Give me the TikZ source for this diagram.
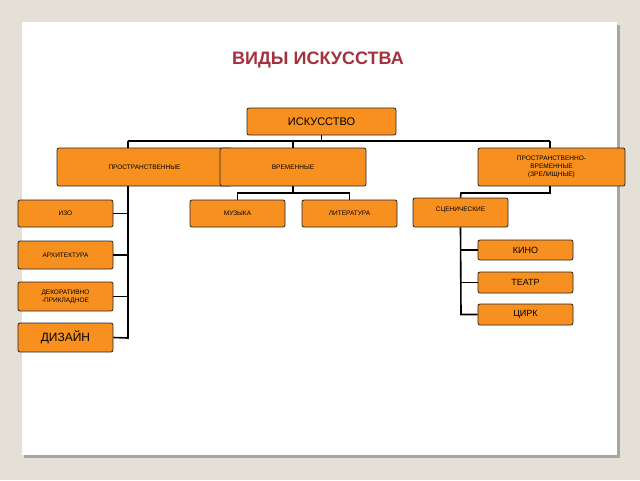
\documentclass[tikz,border=0pt]{standalone}
\usepackage{fontspec}
\setmainfont{Liberation Sans}
\usetikzlibrary{calc}
\definecolor{bg}{HTML}{E4DFD7}
\definecolor{org}{HTML}{F7901E}
\definecolor{ttl}{HTML}{A3323E}
\begin{document}
\begin{tikzpicture}[x=1pt,y=-1pt,
  box/.style={draw=black!85,line width=0.8pt,fill=org,rounded corners=2pt,align=center,inner sep=1pt,
    font=\fontsize{6.5}{8}\selectfont},
  ln/.style={line width=1.6pt,black}]
\useasboundingbox (0,0) rectangle (640,480);
\fill[bg] (0,0) rectangle (640,480);
\fill[black!35] (24,25) rectangle (620,458);
\fill[white] (22,22) rectangle (617,455);
\node[font=\bfseries\fontsize{18}{20}\selectfont,text=ttl] (title) at (318,60) {ВИДЫ ИСКУССТВА};
% nodes
\node[box,minimum width=149,minimum height=27,font=\fontsize{11}{12}\selectfont] (isk) at (321.5,121.5) {ИСКУССТВО};
\node[box,minimum width=175,minimum height=38] (pr) at (144.5,167) {ПРОСТРАНСТВЕННЫЕ};
\node[box,minimum width=146,minimum height=38] (vr) at (293,167) {ВРЕМЕННЫЕ};
\node[box,minimum width=147,minimum height=38] (pv) at (551.5,167) {ПРОСТРАНСТВЕННО-\\ВРЕМЕННЫЕ\\(ЗРЕЛИЩНЫЕ)};
\node[box,minimum width=95,minimum height=27] (izo) at (65.5,213.5) {ИЗО};
\node[box,minimum width=95,minimum height=27] (muz) at (237.5,213.5) {МУЗЫКА};
\node[box,minimum width=95,minimum height=27] (lit) at (349.5,213.5) {ЛИТЕРАТУРА};
\node[box,minimum width=95,minimum height=29,text depth=7pt] (sc) at (460.5,212.5) {СЦЕНИЧЕСКИЕ};
\node[box,minimum width=95,minimum height=28] (arh) at (65.5,255) {АРХИТЕКТУРА};
\node[box,minimum width=95,minimum height=29] (dek) at (65.5,296.5) {ДЕКОРАТИВНО\\-ПРИКЛАДНОЕ};
\node[box,minimum width=95,minimum height=29,font=\fontsize{12}{13}\selectfont] (diz) at (65.5,337.5) {ДИЗАЙН};
\node[box,minimum width=95,minimum height=20,font=\fontsize{9}{10}\selectfont] (kino) at (525.5,250) {КИНО};
\node[box,minimum width=95,minimum height=21,font=\fontsize{9}{10}\selectfont] (teatr) at (525.5,282.5) {ТЕАТР};
\node[box,minimum width=95,minimum height=21,font=\fontsize{9}{10}\selectfont] (cirk) at (525.5,314.5) {ЦИРК};
% connectors
\coordinate (hub) at (321.5,141);
\coordinate (vh) at (293,193);
\coordinate (sh) at (461,193);
\draw[ln] (isk.south) -- (hub);
\draw[ln] (128,141) -- (550,141);
\draw[ln] (128,141) -- (128,148);
\draw[ln] (293,141) -- (vr.north);
\draw[ln] (550,141) -- (550,148);
\draw[ln] (vr.south) -- (vh);
\draw[ln] (muz.north) |- (vh) -| (lit.north);
\draw[ln] (550,186) -- (550,193) -- (sh) -- (sc.north);
\draw[ln] (128,186) -- (128,338) -- (diz.east);
\draw[ln] (izo.east) -- (128,213.5);
\draw[ln] (arh.east) -- (128,255);
\draw[ln] (dek.east) -- (128,296.5);
\draw[ln] (sc.south) -- (461,314.5) -- (cirk.west);
\draw[ln] (461,250) -- (kino.west);
\draw[ln] (461,282.5) -- (teatr.west);
\end{tikzpicture}
\end{document}
